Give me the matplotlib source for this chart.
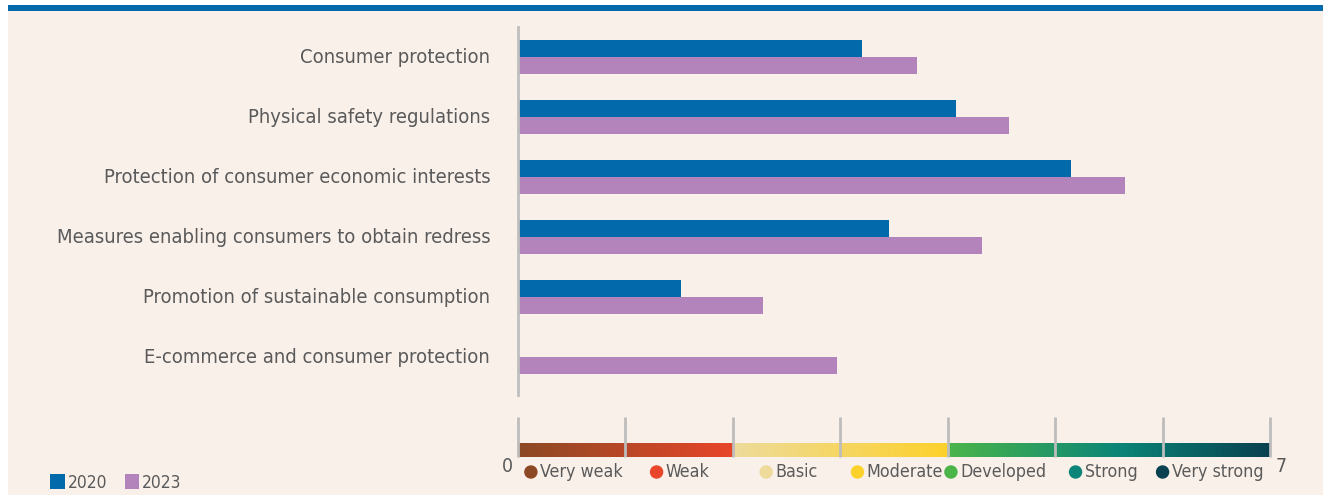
import matplotlib
matplotlib.use("Agg")
import matplotlib.pyplot as plt
import numpy as np
from matplotlib.colors import LinearSegmentedColormap
from matplotlib.patches import Rectangle

# ---- data ----
categories = [
    "Consumer protection",
    "Physical safety regulations",
    "Protection of consumer economic interests",
    "Measures enabling consumers to obtain redress",
    "Promotion of sustainable consumption",
    "E-commerce and consumer protection",
]
values_2020 = [3.20, 4.08, 5.15, 3.45, 1.52, 0.0]
values_2023 = [3.71, 4.57, 5.65, 4.32, 2.28, 2.97]
series_names = ["2020", "2023"]

levels = ["Very weak", "Weak", "Basic", "Moderate", "Developed", "Strong", "Very strong"]
level_colors = ["#8B4A24", "#E8452A", "#EEDB9C", "#FDD12B", "#4BB54A", "#0B8577", "#0A4150"]
level_label_x = [0.12, 1.29, 2.31, 3.16, 4.03, 5.19, 6.00]  # legend item positions on the 0-7 scale
scale_min, scale_max = 0, 7

# ---- style ----
W, H = 1323, 495
BG = "#F9F0EA"
TXT = "#5A5A5A"
C2020 = "#026AAB"
C2023 = "#B384BC"
plt.rcParams["font.family"] = ["DejaVu Sans"]
plt.rcParams["font.stretch"] = "condensed"

fig = plt.figure(figsize=(W / 100, H / 100), dpi=100, facecolor="white")


def px_axes(x0, y0, x1, y1):
    """pixel box (top-left origin) -> axes"""
    return fig.add_axes([x0 / W, 1 - y1 / H, (x1 - x0) / W, (y1 - y0) / H])


# background panel + top rule
fig.patches.append(Rectangle((8 / W, 0), 1 - 8 / W, 1 - 11 / H, transform=fig.transFigure,
                             facecolor=BG, edgecolor="none", zorder=-10))
fig.patches.append(Rectangle((8 / W, 1 - 11 / H), 1 - 8 / W, 6 / H, transform=fig.transFigure,
                             facecolor=C2020, edgecolor="none", zorder=-9))

# ---- bars ----
ax = px_axes(518, 27, 1270, 395)
ax.set_facecolor("none")
y = np.arange(len(categories))
h = 0.28
ax.barh(y - h / 2, values_2020, height=h, color=C2020, label=series_names[0])
ax.barh(y + h / 2, values_2023, height=h, color=C2023, label=series_names[1])
ax.set_xlim(scale_min, scale_max)
ax.set_ylim(5.63, -0.5)
ax.set_yticks(y)
ax.set_yticklabels(categories, fontsize=14.5, color=TXT, va="center")
ax.tick_params(axis="y", length=0, pad=20)
ax.set_xticks([])
for s in ["top", "right", "bottom"]:
    ax.spines[s].set_visible(False)
ax.spines["left"].set_color("#BFBFBF")
ax.spines["left"].set_linewidth(2)

# ---- colour scale ----
sax = px_axes(518, 416, 1270, 457)
sax.set_facecolor("none")
stops = [
    (0 / 7, level_colors[0]), (2 / 7, level_colors[1]),
    (2 / 7, level_colors[2]), (4 / 7, level_colors[3]),
    (4 / 7, level_colors[4]), (5.6 / 7, level_colors[5]),
    (7 / 7, level_colors[6]),
]
cmap = LinearSegmentedColormap.from_list("scale", stops, N=700)
grad = np.linspace(0, 1, 700).reshape(1, -1)
sax.imshow(grad, cmap=cmap, aspect="auto", extent=(scale_min, scale_max, 0, 14), zorder=1)
sax.vlines(np.arange(scale_min, scale_max + 1), 0, 40, color="#BDBDBD", linewidth=2,
           zorder=2, clip_on=False)
sax.set_xlim(scale_min, scale_max)
sax.set_ylim(0, 41)
sax.axis("off")

sax.text(scale_min - 0.05, -9, str(scale_min), ha="right", va="center", fontsize=14, color=TXT)
sax.text(scale_max + 0.05, -9, str(scale_max), ha="left", va="center", fontsize=14, color=TXT)
sax.scatter(level_label_x, [-15] * len(levels), s=75, c=level_colors, clip_on=False, zorder=3)
for lx, name in zip(level_label_x, levels):
    sax.text(lx + 0.085, -15, name, ha="left", va="center", fontsize=12.8, color=TXT)

# ---- series legend ----
leg = fig.legend(loc="lower left", bbox_to_anchor=(40 / W, -0.014), ncol=2, frameon=False,
                 fontsize=12.5, handlelength=0.85, handleheight=1.0, handletextpad=0.15,
                 columnspacing=1.0, borderaxespad=0.2)
for t in leg.get_texts():
    t.set_color(TXT)

fig.savefig("out.png", dpi=100, facecolor=fig.get_facecolor())
